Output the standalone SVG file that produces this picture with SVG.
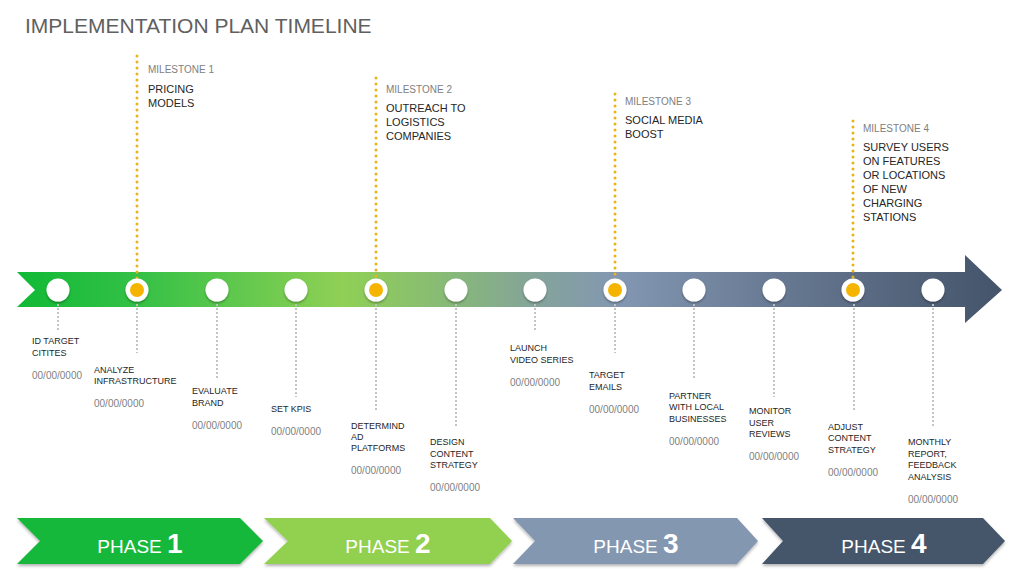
<svg xmlns="http://www.w3.org/2000/svg" width="1024" height="576" viewBox="0 0 1024 576">
<defs>
<linearGradient id="barGrad" gradientUnits="userSpaceOnUse" x1="17" y1="0" x2="1002" y2="0">
<stop offset="0" stop-color="#10b936"/>
<stop offset="0.12" stop-color="#33c146"/>
<stop offset="0.33" stop-color="#8fd055"/>
<stop offset="0.44" stop-color="#87b978"/>
<stop offset="0.52" stop-color="#84a598"/>
<stop offset="0.61" stop-color="#8397b2"/>
<stop offset="0.8" stop-color="#63748d"/>
<stop offset="1" stop-color="#44546a"/>
</linearGradient>
<filter id="shadow" x="-20%" y="-20%" width="140%" height="160%">
<feDropShadow dx="0" dy="2" stdDeviation="1.5" flood-color="#000" flood-opacity="0.3"/>
</filter>
<filter id="cshadow" x="-50%" y="-50%" width="200%" height="200%">
<feDropShadow dx="0" dy="1.5" stdDeviation="1.2" flood-color="#000" flood-opacity="0.35"/>
</filter>
</defs>
<style>
.title{font-family:"Liberation Sans",Arial,sans-serif;font-size:21px;fill:#606060}
.mlab{font-family:"Liberation Sans",Arial,sans-serif;font-size:10px;fill:#808080}
.mtxt{font-family:"Liberation Sans",Arial,sans-serif;font-size:11px;fill:#262626}
.lab{font-family:"Liberation Sans",Arial,sans-serif;font-size:9px;fill:#262626}
.date{font-family:"Liberation Sans",Arial,sans-serif;font-size:10px;fill:#7f7f7f}
.ydot{stroke:#e8b418;stroke-width:3;stroke-linecap:round;stroke-dasharray:0 6;fill:none}
.gdot{stroke:#c4c4c4;stroke-width:2;stroke-dasharray:2 2;fill:none}
.wc{fill:#ffffff;filter:url(#cshadow)}
.yc{fill:#f5b400}
.phase{font-family:"Liberation Sans",Arial,sans-serif;font-size:19px;fill:#ffffff;text-anchor:middle}
.pnum{font-size:28px;font-weight:bold}
</style>
<rect width="1024" height="576" fill="#ffffff"/>
<text class="title" x="25" y="33">IMPLEMENTATION PLAN TIMELINE</text>

<g id="timeline-bar">
<path d="M17,272 L965,272 L965,255 L1002,290 L965,323 L965,307 L17,307 L35,290 Z" fill="url(#barGrad)"/>
</g>

<g id="connectors">
<line class="ydot" x1="137" y1="56" x2="137" y2="282"/>
<line class="ydot" x1="376" y1="78" x2="376" y2="282"/>
<line class="ydot" x1="615" y1="94" x2="615" y2="282"/>
<line class="ydot" x1="853" y1="121" x2="853" y2="282"/>
<line class="gdot" x1="58" y1="304" x2="58" y2="330"/>
<line class="gdot" x1="137" y1="304" x2="137" y2="353"/>
<line class="gdot" x1="217" y1="304" x2="217" y2="378"/>
<line class="gdot" x1="296" y1="304" x2="296" y2="397"/>
<line class="gdot" x1="376" y1="304" x2="376" y2="412"/>
<line class="gdot" x1="456" y1="304" x2="456" y2="427"/>
<line class="gdot" x1="535" y1="304" x2="535" y2="331"/>
<line class="gdot" x1="615" y1="304" x2="615" y2="353"/>
<line class="gdot" x1="694" y1="304" x2="694" y2="378"/>
<line class="gdot" x1="774" y1="304" x2="774" y2="397"/>
<line class="gdot" x1="854" y1="304" x2="854" y2="412"/>
<line class="gdot" x1="933" y1="304" x2="933" y2="427"/>
</g>

<g id="milestone-1">
<text class="mlab" x="148" y="73">MILESTONE 1</text>
<text class="mtxt" x="148" y="93">PRICING</text>
<text class="mtxt" x="148" y="107">MODELS</text>
</g>
<g id="milestone-2">
<text class="mlab" x="386" y="93">MILESTONE 2</text>
<text class="mtxt" x="386" y="112">OUTREACH TO</text>
<text class="mtxt" x="386" y="126">LOGISTICS</text>
<text class="mtxt" x="386" y="140">COMPANIES</text>
</g>
<g id="milestone-3">
<text class="mlab" x="625" y="105">MILESTONE 3</text>
<text class="mtxt" x="625" y="124">SOCIAL MEDIA</text>
<text class="mtxt" x="625" y="138">BOOST</text>
</g>
<g id="milestone-4">
<text class="mlab" x="863" y="132">MILESTONE 4</text>
<text class="mtxt" x="863" y="151">SURVEY USERS</text>
<text class="mtxt" x="863" y="165">ON FEATURES</text>
<text class="mtxt" x="863" y="179">OR LOCATIONS</text>
<text class="mtxt" x="863" y="193">OF NEW</text>
<text class="mtxt" x="863" y="207">CHARGING</text>
<text class="mtxt" x="863" y="221">STATIONS</text>
</g>

<g id="node-1">
<circle class="wc" cx="58" cy="290" r="11.5"/>
<text class="lab" x="32" y="344">ID TARGET</text>
<text class="lab" x="32" y="356">CITITES</text>
<text class="date" x="32" y="379">00/00/0000</text>
</g>
<g id="node-2">
<circle class="wc" cx="137" cy="290" r="11.5"/>
<circle class="yc" cx="137" cy="290" r="7"/>
<text class="lab" x="94" y="373">ANALYZE</text>
<text class="lab" x="94" y="384">INFRASTRUCTURE</text>
<text class="date" x="94" y="407">00/00/0000</text>
</g>
<g id="node-3">
<circle class="wc" cx="217" cy="290" r="11.5"/>
<text class="lab" x="192" y="394">EVALUATE</text>
<text class="lab" x="192" y="406">BRAND</text>
<text class="date" x="192" y="429">00/00/0000</text>
</g>
<g id="node-4">
<circle class="wc" cx="296" cy="290" r="11.5"/>
<text class="lab" x="271" y="412">SET KPIS</text>
<text class="date" x="271" y="435">00/00/0000</text>
</g>
<g id="node-5">
<circle class="wc" cx="376" cy="290" r="11.5"/>
<circle class="yc" cx="376" cy="290" r="7"/>
<text class="lab" x="351" y="429">DETERMIND</text>
<text class="lab" x="351" y="440">AD</text>
<text class="lab" x="351" y="451">PLATFORMS</text>
<text class="date" x="351" y="474">00/00/0000</text>
</g>
<g id="node-6">
<circle class="wc" cx="456" cy="290" r="11.5"/>
<text class="lab" x="430" y="445">DESIGN</text>
<text class="lab" x="430" y="457">CONTENT</text>
<text class="lab" x="430" y="468">STRATEGY</text>
<text class="date" x="430" y="491">00/00/0000</text>
</g>
<g id="node-7">
<circle class="wc" cx="535" cy="290" r="11.5"/>
<text class="lab" x="510" y="351">LAUNCH</text>
<text class="lab" x="510" y="363">VIDEO SERIES</text>
<text class="date" x="510" y="386">00/00/0000</text>
</g>
<g id="node-8">
<circle class="wc" cx="615" cy="290" r="11.5"/>
<circle class="yc" cx="615" cy="290" r="7"/>
<text class="lab" x="589" y="378">TARGET</text>
<text class="lab" x="589" y="390">EMAILS</text>
<text class="date" x="589" y="413">00/00/0000</text>
</g>
<g id="node-9">
<circle class="wc" cx="694" cy="290" r="11.5"/>
<text class="lab" x="669" y="399">PARTNER</text>
<text class="lab" x="669" y="410">WITH LOCAL</text>
<text class="lab" x="669" y="422">BUSINESSES</text>
<text class="date" x="669" y="445">00/00/0000</text>
</g>
<g id="node-10">
<circle class="wc" cx="774" cy="290" r="11.5"/>
<text class="lab" x="749" y="414">MONITOR</text>
<text class="lab" x="749" y="426">USER</text>
<text class="lab" x="749" y="437">REVIEWS</text>
<text class="date" x="749" y="460">00/00/0000</text>
</g>
<g id="node-11">
<circle class="wc" cx="853" cy="290" r="11.5"/>
<circle class="yc" cx="853" cy="290" r="7"/>
<text class="lab" x="828" y="430">ADJUST</text>
<text class="lab" x="828" y="441">CONTENT</text>
<text class="lab" x="828" y="453">STRATEGY</text>
<text class="date" x="828" y="476">00/00/0000</text>
</g>
<g id="node-12">
<circle class="wc" cx="933" cy="290" r="11.5"/>
<text class="lab" x="908" y="445">MONTHLY</text>
<text class="lab" x="908" y="457">REPORT,</text>
<text class="lab" x="908" y="468">FEEDBACK</text>
<text class="lab" x="908" y="480">ANALYSIS</text>
<text class="date" x="908" y="503">00/00/0000</text>
</g>

<g id="phase-1">
<path d="M17,518 L240,518 L263,541 L240,564 L17,564 L40,541 Z" fill="#14b83a" filter="url(#shadow)"/>
<text class="phase" x="140" y="553">PHASE <tspan class="pnum">1</tspan></text>
</g>
<g id="phase-2">
<path d="M264,518 L490,518 L512,541 L490,564 L264,564 L288,541 Z" fill="#92d050" filter="url(#shadow)"/>
<text class="phase" x="388" y="553">PHASE <tspan class="pnum">2</tspan></text>
</g>
<g id="phase-3">
<path d="M513,518 L737,518 L758,541 L737,564 L513,564 L535,541 Z" fill="#8497b0" filter="url(#shadow)"/>
<text class="phase" x="636" y="553">PHASE <tspan class="pnum">3</tspan></text>
</g>
<g id="phase-4">
<path d="M762,518 L983,518 L1005,541 L983,564 L762,564 L783,541 Z" fill="#44546a" filter="url(#shadow)"/>
<text class="phase" x="884" y="553">PHASE <tspan class="pnum">4</tspan></text>
</g>
</svg>
